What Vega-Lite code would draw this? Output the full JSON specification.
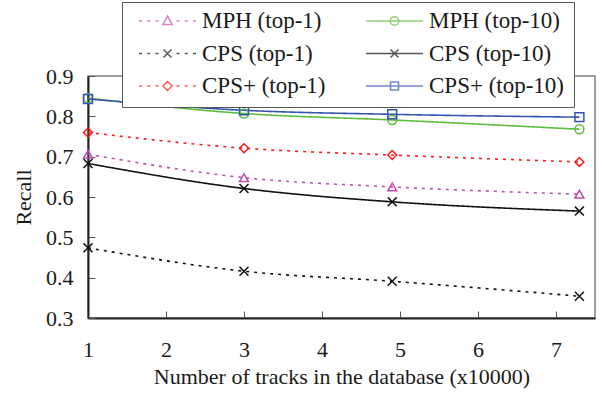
{
  "$schema": "https://vega.github.io/schema/vega-lite/v6.json",
  "width": 507,
  "height": 242,
  "autosize": {"type": "none"},
  "padding": {"left": 88, "top": 76, "right": 7, "bottom": 82},
  "background": "white",
  "config": {
    "font": "Liberation Serif",
    "view": {"stroke": "#808080", "strokeWidth": 1.5},
    "axis": {
      "labelFont": "Liberation Serif",
      "titleFont": "Liberation Serif",
      "labelFontSize": 22,
      "titleFontSize": 22,
      "titleFontWeight": "normal",
      "labelColor": "#1a1a1a",
      "titleColor": "#1a1a1a",
      "domainColor": "#222222",
      "domainWidth": 2,
      "tickColor": "#555555",
      "tickWidth": 1,
      "tickSize": -7,
      "grid": false
    },
    "legend": {
      "labelFont": "Liberation Serif",
      "labelFontSize": 23,
      "labelColor": "#1a1a1a"
    }
  },
  "data": {
    "values": [
      {"series": "MPH (top-1)", "x": 1, "recall": 0.706},
      {"series": "MPH (top-1)", "x": 3, "recall": 0.648},
      {"series": "MPH (top-1)", "x": 4.9, "recall": 0.625},
      {"series": "MPH (top-1)", "x": 7.3, "recall": 0.607},
      {"series": "MPH (top-10)", "x": 1, "recall": 0.845},
      {"series": "MPH (top-10)", "x": 3, "recall": 0.807},
      {"series": "MPH (top-10)", "x": 4.9, "recall": 0.791},
      {"series": "MPH (top-10)", "x": 7.3, "recall": 0.768},
      {"series": "CPS (top-1)", "x": 1, "recall": 0.474},
      {"series": "CPS (top-1)", "x": 3, "recall": 0.416},
      {"series": "CPS (top-1)", "x": 4.9, "recall": 0.391},
      {"series": "CPS (top-1)", "x": 7.3, "recall": 0.354},
      {"series": "CPS (top-10)", "x": 1, "recall": 0.683},
      {"series": "CPS (top-10)", "x": 3, "recall": 0.621},
      {"series": "CPS (top-10)", "x": 4.9, "recall": 0.588},
      {"series": "CPS (top-10)", "x": 7.3, "recall": 0.565},
      {"series": "CPS+ (top-1)", "x": 1, "recall": 0.76},
      {"series": "CPS+ (top-1)", "x": 3, "recall": 0.721},
      {"series": "CPS+ (top-1)", "x": 4.9, "recall": 0.704},
      {"series": "CPS+ (top-1)", "x": 7.3, "recall": 0.687},
      {"series": "CPS+ (top-10)", "x": 1, "recall": 0.843},
      {"series": "CPS+ (top-10)", "x": 3, "recall": 0.815},
      {"series": "CPS+ (top-10)", "x": 4.9, "recall": 0.805},
      {"series": "CPS+ (top-10)", "x": 7.3, "recall": 0.798}
    ]
  },
  "encoding": {
    "x": {
      "field": "x",
      "type": "quantitative",
      "scale": {"domain": [1, 7.5], "nice": false, "zero": false},
      "axis": {
        "values": [1, 2, 3, 4, 5, 6, 7],
        "format": "d",
        "title": "Number of tracks in the database (x10000)",
        "labelPadding": 28,
        "titlePadding": 6,
        "labelFlush": false
      }
    },
    "y": {
      "field": "recall",
      "type": "quantitative",
      "scale": {"domain": [0.3, 0.9], "nice": false, "zero": false},
      "axis": {
        "values": [0.3, 0.4, 0.5, 0.6, 0.7, 0.8, 0.9],
        "format": ".1f",
        "title": "Recall",
        "labelPadding": 22,
        "titlePadding": 10,
        "labelFlush": false
      }
    }
  },
  "layer": [
    {
      "mark": {"type": "line", "strokeWidth": 1.6, "interpolate": "monotone"},
      "encoding": {
        "color": {
          "field": "series", "type": "nominal", "legend": null,
          "scale": {
            "domain": ["MPH (top-1)", "MPH (top-10)", "CPS (top-1)", "CPS (top-10)", "CPS+ (top-1)", "CPS+ (top-10)"],
            "range": ["#c050b0", "#5cbd3c", "#111111", "#111111", "#ff1a1a", "#3555b0"]
          }
        },
        "strokeDash": {
          "field": "series", "type": "nominal", "legend": null,
          "scale": {
            "domain": ["MPH (top-1)", "MPH (top-10)", "CPS (top-1)", "CPS (top-10)", "CPS+ (top-1)", "CPS+ (top-10)"],
            "range": [[3, 5], [1, 0], [3, 5], [1, 0], [3, 5], [1, 0]]
          }
        }
      }
    },
    {
      "mark": {"type": "point", "filled": false, "size": 80, "strokeWidth": 1.5, "opacity": 1},
      "encoding": {
        "color": {
          "field": "series", "type": "nominal", "legend": null,
          "scale": {
            "domain": ["MPH (top-1)", "MPH (top-10)", "CPS (top-1)", "CPS (top-10)", "CPS+ (top-1)", "CPS+ (top-10)"],
            "range": ["#c050b0", "#5cbd3c", "#111111", "#111111", "#ff1a1a", "#3555b0"]
          }
        },
        "shape": {
          "field": "series", "type": "nominal", "legend": null,
          "scale": {
            "domain": ["MPH (top-1)", "MPH (top-10)", "CPS (top-1)", "CPS (top-10)", "CPS+ (top-1)", "CPS+ (top-10)"],
            "range": ["triangle-up", "circle", "M-1,-1L1,1M-1,1L1,-1", "M-1,-1L1,1M-1,1L1,-1", "diamond", "square"]
          }
        }
      }
    },
    {
      "transform": [{"filter": "datum.x > 100"}],
      "mark": {"type": "point", "filled": false, "strokeWidth": 1.5},
      "encoding": {
        "color": {
          "field": "series", "type": "nominal",
          "scale": {
            "domain": ["MPH (top-1)", "MPH (top-10)", "CPS (top-1)", "CPS (top-10)", "CPS+ (top-1)", "CPS+ (top-10)"],
            "range": ["#c050b0", "#5cbd3c", "#111111", "#111111", "#ff1a1a", "#3555b0"]
          },
          "legend": {
            "title": null, "orient": "none", "legendX": 34, "legendY": -74, "direction": "horizontal",
            "columns": 2, "columnPadding": 32, "rowPadding": 9.5,
            "clipHeight": 20, "symbolSize": 3249, "symbolStrokeWidth": 1.5,
            "symbolOffset": 7, "labelOffset": 5, "padding": 9,
            "strokeColor": "#555555", "fillColor": "white",
            "encode": {"legend": {"update": {"strokeWidth": {"value": 1.5}}}}
          }
        },
        "shape": {
          "field": "series", "type": "nominal",
          "scale": {
            "domain": ["MPH (top-1)", "MPH (top-10)", "CPS (top-1)", "CPS (top-10)", "CPS+ (top-1)", "CPS+ (top-10)"],
            "range": [
              "M-1,0H-0.895M-0.71,0H-0.605M-0.42,0H-0.315M0.315,0H0.42M0.605,0H0.71M0.895,0H1M0,-0.17L0.16,0.12L-0.16,0.12Z",
              "M-1,0H1M0.15,0A0.15,0.15,0,1,1,-0.15,0A0.15,0.15,0,1,1,0.15,0Z",
              "M-1,0H-0.895M-0.71,0H-0.605M-0.42,0H-0.315M0.315,0H0.42M0.605,0H0.71M0.895,0H1M-0.14,-0.14L0.14,0.14M-0.14,0.14L0.14,-0.14",
              "M-1,0H1M-0.14,-0.14L0.14,0.14M-0.14,0.14L0.14,-0.14",
              "M-1,0H-0.895M-0.71,0H-0.605M-0.42,0H-0.315M0.315,0H0.42M0.605,0H0.71M0.895,0H1M0,-0.16L0.16,0L0,0.16L-0.16,0Z",
              "M-1,0H1M-0.14,-0.14H0.14V0.14H-0.14Z"
            ]
          },
          "legend": {
            "title": null, "orient": "none", "legendX": 34, "legendY": -74, "direction": "horizontal",
            "columns": 2, "columnPadding": 32, "rowPadding": 9.5,
            "clipHeight": 20, "symbolSize": 3249, "symbolStrokeWidth": 1.5,
            "symbolOffset": 7, "labelOffset": 5, "padding": 9,
            "strokeColor": "#555555", "fillColor": "white",
            "encode": {"legend": {"update": {"strokeWidth": {"value": 1.5}}}}
          }
        }
      }
    }
  ],
  "resolve": {"scale": {"color": "independent", "shape": "independent", "strokeDash": "independent"}}
}
